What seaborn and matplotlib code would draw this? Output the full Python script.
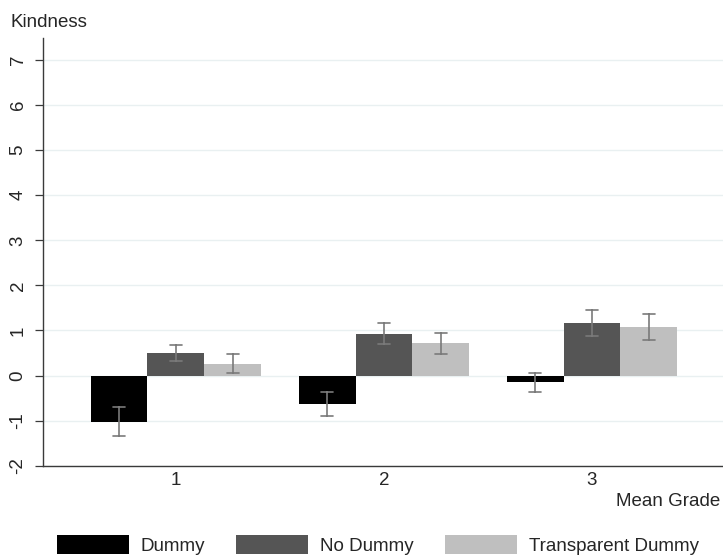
import numpy as np
import pandas as pd
import matplotlib
matplotlib.use("Agg")
import matplotlib.pyplot as plt
import seaborn as sns

# Mean kindness by mean grade and condition, with half-widths of the intervals
grades = ["1", "2", "3"]
conditions = ["Dummy", "No Dummy", "Transparent Dummy"]
dummy_mean = [-1.02, -0.63, -0.15]
dummy_err = [0.33, 0.26, 0.21]
nodummy_mean = [0.50, 0.93, 1.16]
nodummy_err = [0.18, 0.24, 0.29]
transparent_mean = [0.26, 0.72, 1.08]
transparent_err = [0.21, 0.235, 0.29]
y_ticks = [-2, -1, 0, 1, 2, 3, 4, 5, 6, 7]

colors = ["#000000", "#555555", "#bfbfbf"]

# Each cell is described by its lower bound, mean and upper bound; the
# seaborn estimator gives the mean and the 100% interval spans the bounds.
rows = []
for cond, means, errs in zip(conditions,
                             [dummy_mean, nodummy_mean, transparent_mean],
                             [dummy_err, nodummy_err, transparent_err]):
    for g, m, e in zip(grades, means, errs):
        for v in (m - e, m, m + e):
            rows.append({"grade": g, "condition": cond, "kindness": v})
df = pd.DataFrame(rows)

sns.set_theme(style="white")
plt.rcParams["font.family"] = ["Liberation Sans", "DejaVu Sans"]
FS = 13.5
plt.rcParams["font.size"] = FS

W, H = 723, 556
fig = plt.figure(figsize=(W / 100, H / 100), dpi=100)
ax = fig.add_axes([43 / W, 1 - 465.7 / H, (W - 43) / W, (465.7 - 38) / H])

sns.barplot(data=df, x="grade", y="kindness", hue="condition",
            order=grades, hue_order=conditions, palette=colors,
            estimator="mean", errorbar=("pi", 100), width=0.82,
            capsize=0.17, linewidth=0, saturation=1,
            err_kws={"color": "#7a7a7a", "linewidth": 1.2}, ax=ax)

ax.set_ylim(-2, 7.49)
ax.set_xlim(-0.639, 2.63)
ax.set_yticks(y_ticks)
ax.set_yticklabels([str(t) for t in y_ticks])
ax.set_axisbelow(True)
ax.yaxis.grid(True, color="#e9f0f1", linewidth=1.0)
ax.xaxis.grid(False)

for side in ("top", "right"):
    ax.spines[side].set_visible(False)
for side in ("left", "bottom"):
    ax.spines[side].set_color("#3a3a3a")
    ax.spines[side].set_linewidth(1.0)

ax.tick_params(axis="y", left=True, length=5.8, width=0.9, color="#3a3a3a",
               pad=6.0, labelsize=FS, labelrotation=90)
for t in ax.get_yticklabels():
    t.set_va("center")
ax.tick_params(axis="x", bottom=False, length=0, pad=4.5, labelsize=FS)
ax.set_xlabel("")
ax.set_ylabel("")

fig.text(11 / W, 1 - 27 / H, "Kindness", ha="left", va="baseline", fontsize=FS)
fig.text(720 / W, 1 - 506 / H, "Mean Grade", ha="right", va="baseline", fontsize=FS)

sns.move_legend(ax, loc="center left", bbox_to_anchor=(57 / W, 1 - 545 / H),
                bbox_transform=fig.transFigure, ncol=3, frameon=False,
                title=None, handlelength=3.84, handleheight=1.15,
                handletextpad=0.64, columnspacing=1.65, borderpad=0,
                borderaxespad=0, fontsize=FS)

fig.savefig("out.png", dpi=100)
